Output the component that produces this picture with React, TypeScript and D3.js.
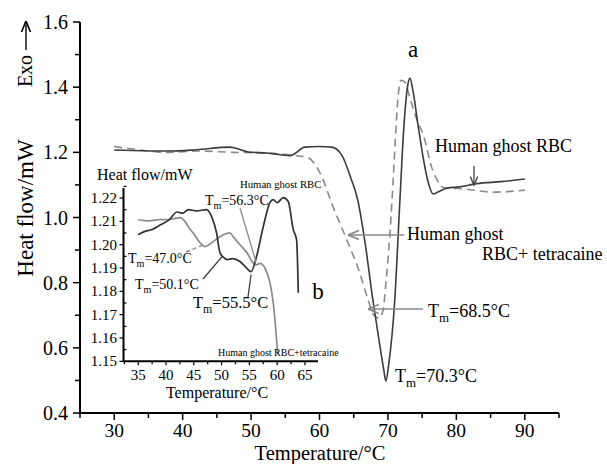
import React from 'react';
import * as d3 from 'd3';

// main DSC curves
const rbcTemp = [30, 34, 38, 42, 46.9, 49.6, 52.3, 55.7, 57.9, 60, 61.8, 63.3, 64.6, 65.6, 66.6, 67.8, 68.8, 69.4, 69.7, 70.1, 71.0, 71.75, 72.3, 72.9, 73.2, 73.65, 74.4, 75.1, 75.8, 76.6, 77.3, 78.6, 80.5, 83, 86.5, 90];
const rbcFlow = [1.207, 1.205, 1.204, 1.208, 1.216, 1.201, 1.198, 1.19, 1.216, 1.218, 1.216, 1.19, 1.12, 1.053, 0.931, 0.747, 0.609, 0.532, 0.498, 0.547, 0.747, 1.053, 1.268, 1.406, 1.428, 1.39, 1.283, 1.19, 1.115, 1.072, 1.078, 1.09, 1.094, 1.104, 1.11, 1.118];

const tetTemp = [30, 32.8, 37.7, 42.6, 47.4, 52.3, 56.1, 58.2, 60.1, 62, 64, 65.9, 67.1, 67.96, 68.7, 69.3, 69.7, 70.3, 70.6, 71.0, 71.5, 71.9, 72.5, 73.1, 73.9, 75.4, 76.3, 77.2, 78, 81.5, 85.3, 90];
const tetFlow = [1.218, 1.21, 1.2, 1.204, 1.2, 1.198, 1.191, 1.185, 1.136, 1.032, 0.931, 0.829, 0.747, 0.7, 0.691, 0.716, 0.799, 0.952, 1.053, 1.207, 1.375, 1.421, 1.415, 1.375, 1.32, 1.237, 1.16, 1.115, 1.093, 1.087, 1.078, 1.084];

// inset curves
const insetRbcTemp = [35, 36, 37.5, 39, 40.5, 42, 43, 44, 45.5, 47.3, 48.3, 49.1, 49.7, 50.4, 51, 52, 53.3, 54.3, 55.3, 56.3, 57.5, 58.7, 59.3, 60, 61.1, 62, 62.9, 63.5, 63.8];
const insetRbc = [1.2043, 1.2055, 1.2065, 1.2085, 1.2105, 1.214, 1.2135, 1.215, 1.2145, 1.215, 1.2115, 1.205, 1.1966, 1.1945, 1.1936, 1.194, 1.1928, 1.1905, 1.1884, 1.195, 1.2077, 1.218, 1.2193, 1.218, 1.2202, 1.2185, 1.2064, 1.2021, 1.1794];

const insetTetTemp = [35, 37, 39, 40.1, 41.5, 42.5, 43.4, 44.2, 44.9, 46.1, 47, 48.5, 49.7, 50.6, 51.5, 52.1, 53.3, 54.8, 55.5, 56.3, 56.9, 57.8, 58.7, 59.3, 60.1];
const insetTet = [1.2107, 1.2102, 1.2108, 1.2107, 1.2112, 1.2116, 1.21, 1.207, 1.205, 1.2009, 1.1992, 1.2013, 1.2034, 1.2045, 1.2051, 1.2034, 1.2, 1.1957, 1.1927, 1.1914, 1.192, 1.19, 1.1837, 1.175, 1.153];

const mainYTicks = [0.4, 0.6, 0.8, 1.0, 1.2, 1.4, 1.6];
const mainXTicks = [30, 40, 50, 60, 70, 80, 90];
const insetYTicks = [1.15, 1.16, 1.17, 1.18, 1.19, 1.2, 1.21, 1.22];
const insetXTicks = [35, 40, 45, 50, 55, 60, 65];

const FONT = 'Liberation Serif, Times New Roman, serif';

function Tm({ x, y, value, size }: { x: number; y: number; value: string; size: number }) {
  const sub = size * 0.28;
  return (
    <text x={x} y={y} fontSize={size}>
      <tspan>T</tspan>
      <tspan dy={sub} fontSize={size * 0.72}>m</tspan>
      <tspan dy={-sub}>={value}°C</tspan>
    </text>
  );
}

export default function App() {
  const x = d3.scaleLinear().domain([25, 95]).range([80, 559]);
  const y = d3.scaleLinear().domain([0.4, 1.6]).range([413, 22]);
  const ix = d3.scaleLinear().domain([32.35, 67.35]).range([123.5, 318]);
  const iy = d3.scaleLinear().domain([1.15, 1.2243]).range([361.3, 188]);

  const line = (xs: number[], ys: number[], sx: any, sy: any) =>
    d3.line<number>().x((_, i) => sx(xs[i])).y((d) => sy(d)).curve(d3.curveMonotoneX)(ys) || '';

  const mainXMinor = d3.range(25, 95.1, 5).filter((v) => v % 10 !== 0);
  const mainYMinor = d3.range(0.5, 1.6, 0.2);
  const insetXMinor = d3.range(32.5, 67.5, 5);
  const insetYMinor = d3.range(1.155, 1.225, 0.01);

  const gray = '#8a8a8a';
  const dark = '#3c3c3c';

  return (
    <svg width={607} height={464} style={{ position: 'absolute', left: 0, top: 0, background: '#fff', fontFamily: FONT }}>
      <defs>
        <marker id="ahGray" viewBox="0 0 10 10" refX="9" refY="5" markerWidth="7" markerHeight="7" orient="auto-start-reverse">
          <path d="M0,1 L10,5 L0,9" fill="none" stroke={gray} strokeWidth={1.5} />
        </marker>
        <marker id="ahDark" viewBox="0 0 10 10" refX="9" refY="5" markerWidth="7" markerHeight="7" orient="auto-start-reverse">
          <path d="M0,1 L10,5 L0,9" fill="none" stroke="#444" strokeWidth={1.5} />
        </marker>
        <marker id="ahBlack" viewBox="0 0 10 10" refX="9" refY="5" markerWidth="8" markerHeight="8" orient="auto-start-reverse">
          <path d="M0,1 L10,5 L0,9" fill="none" stroke="#000" strokeWidth={1.4} />
        </marker>
      </defs>

      {/* main curves */}
      <path d={line(tetTemp, tetFlow, x, y)} fill="none" stroke={gray} strokeWidth={1.6} strokeDasharray="8 5" />
      <path d={line(rbcTemp, rbcFlow, x, y)} fill="none" stroke={dark} strokeWidth={1.6} />

      {/* main axes */}
      <g stroke="#000" strokeWidth={2}>
        <line x1={x(25)} x2={x(95)} y1={y(0.4)} y2={y(0.4)} />
        <line x1={x(25)} x2={x(25)} y1={y(0.4)} y2={y(1.6)} />
      </g>
      <g stroke="#000" strokeWidth={1.5}>
        {mainXTicks.map((t) => <line key={'mx' + t} x1={x(t)} x2={x(t)} y1={y(0.4)} y2={y(0.4) + 7} />)}
        {mainXMinor.map((t) => <line key={'mxm' + t} x1={x(t)} x2={x(t)} y1={y(0.4)} y2={y(0.4) + 5} />)}
        {mainYTicks.map((t) => <line key={'my' + t} x1={x(25) - 7} x2={x(25)} y1={y(t)} y2={y(t)} />)}
        {mainYMinor.map((t) => <line key={'mym' + t} x1={x(25) - 5} x2={x(25)} y1={y(t)} y2={y(t)} />)}
      </g>
      <g fill="#000">
        {mainXTicks.map((t) => <text key={'lx' + t} x={x(t)} y={437} fontSize={19.5} textAnchor="middle">{t}</text>)}
        {mainYTicks.map((t) => <text key={'ly' + t} x={68} y={y(t) + 7} fontSize={20} textAnchor="end">{t.toFixed(1)}</text>)}
      </g>
      <text x={320} y={459.5} fontSize={20.5} textAnchor="middle">Temperature/°C</text>
      <text transform="translate(33,208) rotate(-90)" fontSize={23} textAnchor="middle">Heat flow/mW</text>
      <text transform="translate(32,71) rotate(-90)" fontSize={20} textAnchor="middle">Exo</text>
      <line x1={26} x2={26} y1={50} y2={22} stroke="#000" strokeWidth={1.4} markerEnd="url(#ahBlack)" />

      {/* main annotations */}
      <text x={413} y={57} fontSize={23} textAnchor="middle">a</text>
      <text x={318} y={299} fontSize={23} textAnchor="middle">b</text>
      <text x={435} y={152} fontSize={18}>Human ghost RBC</text>
      <line x1={474} x2={474} y1={166} y2={y(1.101)} stroke="#444" strokeWidth={1.3} markerEnd="url(#ahDark)" />
      <text x={407} y={240} fontSize={18}>Human ghost</text>
      <text x={482} y={260} fontSize={18}>RBC+ tetracaine</text>
      <line x1={404} x2={x(64.3)} y1={235} y2={235} stroke={gray} strokeWidth={1.6} markerEnd="url(#ahGray)" />
      <Tm x={428} y={317} value="68.5" size={18} />
      <line x1={423} x2={x(67.2)} y1={309} y2={309} stroke={gray} strokeWidth={1.6} markerEnd="url(#ahGray)" />
      <Tm x={395} y={382} value="70.3" size={18} />

      {/* inset curves */}
      <path d={line(insetTetTemp, insetTet, ix, iy)} fill="none" stroke={gray} strokeWidth={1.7} />
      <path d={line(insetRbcTemp, insetRbc, ix, iy)} fill="none" stroke="#333" strokeWidth={1.7} />

      {/* inset axes */}
      <g stroke="#000" strokeWidth={2}>
        <line x1={ix(32.35)} x2={ix(67.35)} y1={iy(1.15)} y2={iy(1.15)} />
        <line x1={ix(32.35)} x2={ix(32.35)} y1={iy(1.15)} y2={iy(1.2243)} />
      </g>
      <g stroke="#000" strokeWidth={1.2}>
        {insetXTicks.map((t) => <line key={'ix' + t} x1={ix(t)} x2={ix(t)} y1={iy(1.15)} y2={iy(1.15) + 4} />)}
        {insetXMinor.map((t) => <line key={'ixm' + t} x1={ix(t)} x2={ix(t)} y1={iy(1.15)} y2={iy(1.15) + 3} />)}
        {insetYTicks.map((t) => <line key={'iy' + t} x1={ix(32.35) - 4} x2={ix(32.35)} y1={iy(t)} y2={iy(t)} />)}
        {insetYMinor.map((t) => <line key={'iym' + t} x1={ix(32.35)} x2={ix(32.35) + 3} y1={iy(t)} y2={iy(t)} />)}
      </g>
      <g fontSize={15} fill="#000">
        {insetXTicks.map((t) => <text key={'ilx' + t} x={ix(t)} y={380} textAnchor="middle">{t}</text>)}
        {insetYTicks.map((t) => <text key={'ily' + t} x={117} y={iy(t) + 5} textAnchor="end">{t.toFixed(2)}</text>)}
      </g>
      <text x={97} y={180} fontSize={16}>Heat flow/mW</text>
      <text x={217} y={398} fontSize={16} textAnchor="middle">Temperature/°C</text>

      {/* inset annotations */}
      <text x={240} y={188} fontSize={10.7}>Human ghost RBC</text>
      <text x={218} y={356} fontSize={10}>Human ghost RBC+tetracaine</text>
      <Tm x={205} y={205} value="56.3" size={14} />
      <line x1={240} y1={208} x2={ix(56.2)} y2={iy(1.1925)} stroke={gray} strokeWidth={1.3} />
      <Tm x={128} y={263} value="47.0" size={14} />
      <line x1={186} y1={252} x2={ix(46.6)} y2={iy(1.1998)} stroke={gray} strokeWidth={1.5} strokeDasharray="4 3" />
      <Tm x={135} y={289} value="50.1" size={14} />
      <line x1={203} y1={279} x2={ix(50.2)} y2={iy(1.1952)} stroke="#333" strokeWidth={1.2} />
      <Tm x={193} y={308} value="55.5" size={16.5} />
      <line x1={248} y1={297} x2={ix(55.3)} y2={iy(1.1872)} stroke="#333" strokeWidth={1.2} />
    </svg>
  );
}
